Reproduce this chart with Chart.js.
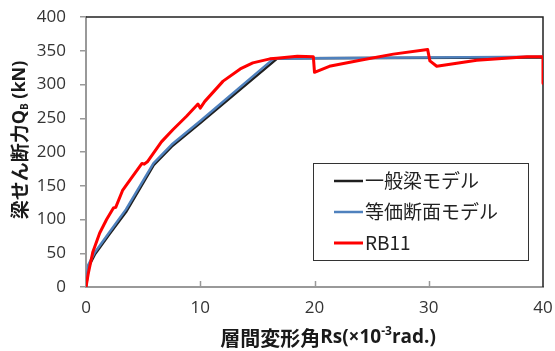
<!DOCTYPE html>
<html>
<head>
<meta charset="utf-8">
<script src="https://cdn.jsdelivr.net/npm/chart.js@4.4.1/dist/chart.umd.min.js"></script>
<style>
  html, body { margin: 0; padding: 0; background: #fff; }
  canvas { display: block; }
</style>
</head>
<body>
<canvas id="chart" width="555" height="351"></canvas>
<script>
// data (Rs in 10^-3 rad, Q_B in kN)
const seriesLabels = ["一般梁モデル", "等価断面モデル", "RB11"];
const xTicks = [0, 10, 20, 30, 40];
const yTicks = [0, 50, 100, 150, 200, 250, 300, 350, 400];

const rsBeam = [0, 0.25, 0.8, 2, 3.5, 5.9, 7.5, 10, 16.7, 18, 40];
const qBeam  = [0, 31, 49, 77, 111, 180, 208, 243, 338, 339, 340];

const rsEq = [0, 0.2, 0.8, 2, 3.5, 5.9, 7.5, 10, 16.4, 20, 30, 40];
const qEq  = [0, 33, 52, 80, 115, 183, 211, 246, 338, 339, 340, 341];

const rsRB = [0, 0.2, 0.6, 1.2, 1.8, 2.4, 2.6, 3.2, 4.0, 4.9, 5.1, 5.4, 6.6, 7.6, 8.8, 9.8, 10, 10.4, 12, 13.5, 14.6, 16.1, 16.7, 18.5, 19.9, 20, 21.3, 24, 26.9, 29.9, 30.1, 30.7, 34.2, 38.6, 40, 40];
const qRB  = [0, 20, 52, 80, 100, 117, 118, 143, 162, 183, 182, 186, 215, 233, 253, 271, 265, 275, 305, 323, 332, 338, 339, 342, 341, 318, 327, 336, 345, 352, 335, 327, 336, 341, 341, 302];

const pts = (xs, ys) => xs.map((x, i) => ({ x: x, y: ys[i] }));

const tickFont = { family: "'Open Sans', 'Noto Sans', sans-serif", size: 17 };
const jpFont = "'Noto Sans CJK JP', 'Noto Sans', sans-serif";

// frame, inside x ticks, titles and legend box
const decorations = {
  id: "decorations",
  beforeDatasetsDraw(chart) {
    const { ctx, chartArea: a, scales } = chart;
    ctx.save();
    ctx.strokeStyle = "#222";
    ctx.lineWidth = 1.5;
    ctx.beginPath();
    ctx.moveTo(a.left, a.top);
    ctx.lineTo(a.right, a.top);
    ctx.lineTo(a.right, a.bottom);
    ctx.stroke();
    ctx.strokeStyle = "#999";
    ctx.lineWidth = 1.5;
    xTicks.slice(1, -1).forEach((v) => {
      const px = Math.round(scales.x.getPixelForValue(v)) + 0.5;
      ctx.beginPath();
      ctx.moveTo(px, a.bottom);
      ctx.lineTo(px, a.bottom - 6);
      ctx.stroke();
    });
    ctx.restore();
  },
  afterDraw(chart) {
    const { ctx } = chart;
    ctx.save();
    ctx.fillStyle = "#1a1a1a";
    ctx.textBaseline = "middle";

    // x title: 層間変形角Rs(×10^-3rad.)
    const xParts = [
      ["層間変形角", "bold 20px " + jpFont, 0],
      ["Rs(×10", "bold 19px 'Open Sans', sans-serif", 0],
      ["-3", "bold 12px 'Open Sans', sans-serif", -6],
      ["rad.)", "bold 19px 'Open Sans', sans-serif", 0],
    ];
    drawParts(ctx, xParts, 328, 338);

    // y title: 梁せん断力Q_B (kN), rotated
    ctx.translate(20, 140);
    ctx.rotate(-Math.PI / 2);
    const yParts = [
      ["梁せん断力", "bold 19px " + jpFont, 0],
      ["Q", "bold 18px 'Open Sans', sans-serif", 0],
      ["B", "bold 10px 'Open Sans', sans-serif", 5],
      [" (kN)", "bold 18px 'Open Sans', sans-serif", 0],
    ];
    drawParts(ctx, yParts, 0, 0);
    ctx.restore();

    // legend box
    const box = { l: 313, t: 163, r: 528, b: 260 };
    ctx.save();
    ctx.strokeStyle = "#333";
    ctx.lineWidth = 1;
    ctx.strokeRect(box.l + 0.5, box.t + 0.5, box.r - box.l, box.b - box.t);
    ctx.font = "19px " + jpFont;
    ctx.textBaseline = "middle";
    chart.data.datasets.forEach((ds, i) => {
      const cy = 181 + i * 31;
      ctx.strokeStyle = ds.borderColor;
      ctx.lineWidth = ds.borderWidth;
      ctx.beginPath();
      ctx.moveTo(334, cy);
      ctx.lineTo(363, cy);
      ctx.stroke();
      ctx.fillStyle = "#222";
      ctx.fillText(ds.label, 365, cy);
    });
    ctx.restore();
  },
};

function drawParts(ctx, parts, cx, cy) {
  let total = 0;
  parts.forEach((p) => { ctx.font = p[1]; total += ctx.measureText(p[0]).width; });
  let x = cx - total / 2;
  ctx.textAlign = "left";
  parts.forEach((p) => {
    ctx.font = p[1];
    ctx.fillText(p[0], x, cy + p[2]);
    x += ctx.measureText(p[0]).width;
  });
}

new Chart(document.getElementById("chart"), {
  type: "line",
  data: {
    datasets: [
      { label: seriesLabels[0], data: pts(rsBeam, qBeam), borderColor: "#1f1f1f", borderWidth: 2.5, order: 2 },
      { label: seriesLabels[1], data: pts(rsEq, qEq), borderColor: "#4f81bd", borderWidth: 2.5, order: 1 },
      { label: seriesLabels[2], data: pts(rsRB, qRB), borderColor: "#ff0000", borderWidth: 3, order: 0 },
    ],
  },
  options: {
    responsive: false,
    animation: false,
    devicePixelRatio: 1,
    elements: { point: { radius: 0 }, line: { tension: 0, borderJoinStyle: "round" } },
    layout: { padding: { left: 0, top: 17, right: 12, bottom: 0 } },
    plugins: { legend: { display: false }, tooltip: { enabled: false } },
    scales: {
      x: {
        type: "linear",
        min: 0,
        max: 40,
        afterBuildTicks: (s) => { s.ticks = xTicks.map((v) => ({ value: v })); },
        afterFit: (s) => { s.height = 64; s.paddingLeft = 0; s.paddingRight = 0; },
        grid: { display: true, drawOnChartArea: false, drawTicks: false },
        border: { color: "#999", width: 2 },
        ticks: { font: tickFont, color: "#333", padding: 11, maxRotation: 0 },
      },
      y: {
        min: 0,
        max: 400,
        afterBuildTicks: (s) => { s.ticks = yTicks.map((v) => ({ value: v })); },
        afterFit: (s) => { s.width = 86; s.paddingTop = 0; s.paddingBottom = 0; },
        grid: { display: true, drawOnChartArea: false, drawTicks: true, tickLength: 6, color: "#999", lineWidth: 1.5 },
        border: { color: "#999", width: 2 },
        ticks: { font: tickFont, color: "#333", padding: 14 },
      },
    },
  },
  plugins: [decorations],
});
</script>
</body>
</html>
